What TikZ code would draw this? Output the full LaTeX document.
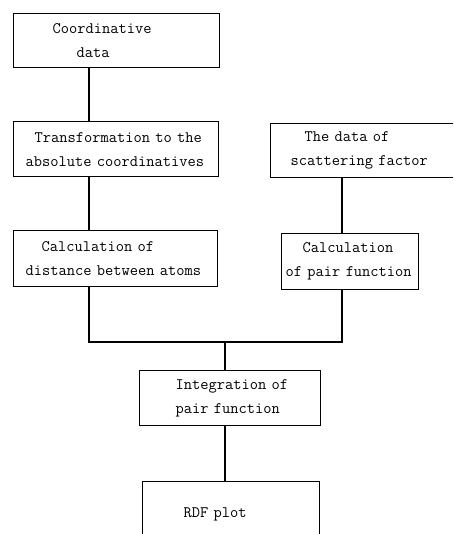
\documentclass[tikz,border=0pt]{standalone}
\tikzset{
	stage/.style={draw, line width=1.3pt, anchor=north west, align=left,
		inner xsep=4pt, inner ysep=0pt, font=\ttfamily\fontsize{16}{24}\selectfont},
	link/.style={line width=1.3pt}
}

\begin{document}
\begin{tikzpicture}[x=1pt,y=-1pt]
		\useasboundingbox (0,0) rectangle (453,534);
		\clip (0,0) rectangle (453,534);
		\node[stage, minimum width=206pt, minimum height=54pt, text width=198pt] (coord) at (13,13)
			{\hspace*{35pt}Coordinative\\\hspace*{59pt}data};
		\node[stage, minimum width=205pt, minimum height=55pt, text width=197pt] (trans) at (13,121)
			{\hspace*{17pt}Transformation to the\\\hspace*{8pt}absolute coordinatives};
		\node[stage, minimum width=204pt, minimum height=56pt, text width=196pt] (dist) at (13,230)
			{\hspace*{24pt}Calculation of\\\hspace*{8pt}distance between atoms};
		\node[stage, minimum width=200pt, minimum height=54pt, text width=192pt] (scat) at (270,123)
			{\hspace*{30pt}The data of\\\hspace*{16pt}scattering factor};
		\node[stage, minimum width=137pt, minimum height=56pt, text width=129pt] (pair) at (281,233)
			{\hspace*{17pt}Calculation\\of~pair~function};
		\node[stage, minimum width=181pt, minimum height=55pt, text width=173pt] (integ) at (139,370)
			{\hspace*{32pt}Integration of\\\hspace*{32pt}pair function};
		\node[stage, minimum width=177pt, minimum height=66pt, text width=169pt] (rdf) at (142,481)
			{\hspace*{37pt}RDF plot};
		\coordinate (lx) at (89,0);
		\coordinate (rx) at (342,0);
		\coordinate (join) at (225,342);
		\draw[link] (coord.south -| lx) -- (trans.north -| lx);
		\draw[link] (trans.south -| lx) -- (dist.north -| lx);
		\draw[link] (scat.south -| rx) -- (pair.north -| rx);
		\draw[link] (dist.south -| lx) |- (join) -| (pair.south -| rx);
		\draw[link] (join) -- (integ.north -| join);
		\draw[link] (integ.south -| join) -- (rdf.north -| join);
	\end{tikzpicture}
\end{document}
